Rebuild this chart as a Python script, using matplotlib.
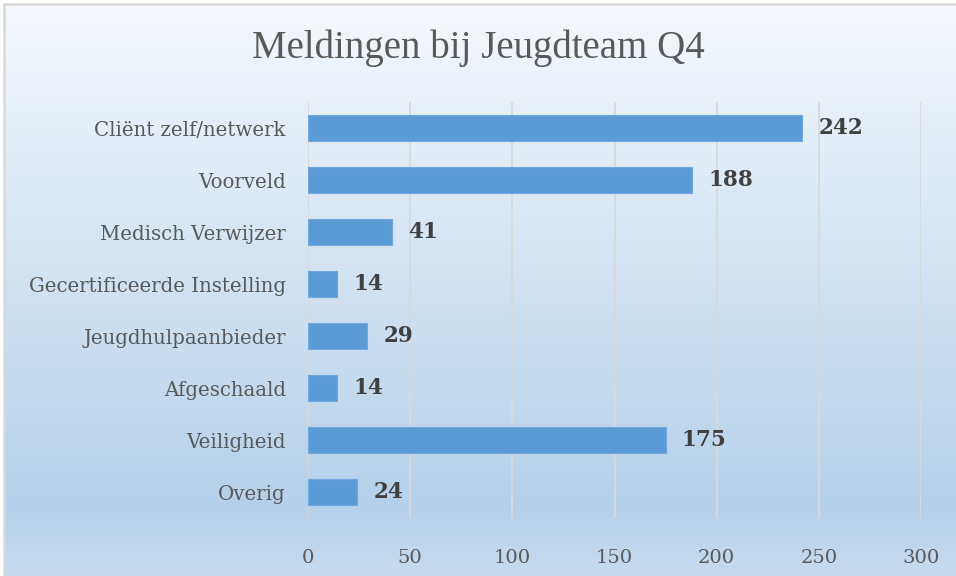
import matplotlib.pyplot as plt
import matplotlib.colors as mcolors
from matplotlib.lines import Line2D
import numpy as np

categories = ["Cliënt zelf/netwerk", "Voorveld", "Medisch Verwijzer",
              "Gecertificeerde Instelling", "Jeugdhulpaanbieder", "Afgeschaald",
              "Veiligheid", "Overig"]
values = [242, 188, 41, 14, 29, 14, 175, 24]
xticks = [0, 50, 100, 150, 200, 250, 300]
title = "Meldingen bij Jeugdteam Q4"

W, H = 956, 576
fig = plt.figure(figsize=(W / 100, H / 100), dpi=100)
fig.patch.set_facecolor("white")

##background gradient running off the right and bottom edge
bg = fig.add_axes([4 / W, -0.02, 1.05, 1.02 - 4 / H])
cmap = mcolors.LinearSegmentedColormap.from_list(
    "bg", [(0, "#f5f8fc"), (0.86, "#b4d1eb"), (1, "#c9ddf1")])
grad = np.linspace(0, 1, 256).reshape(-1, 1)
bg.imshow(grad, aspect="auto", cmap=cmap, extent=[0, 1, 0, 1], origin="upper")
bg.set_axis_off()
bg.set_zorder(0)

##grey frame on the left and top only
fig.add_artist(Line2D([4 / W, 4 / W], [0, 1 - 4 / H], color="#d9d9d9", linewidth=1.8))
fig.add_artist(Line2D([4 / W, 1], [1 - 4 / H, 1 - 4 / H], color="#d9d9d9", linewidth=1.8))

ax = fig.add_axes([308 / W, 1 - 518 / H, (921 - 308) / W, (518 - 102) / H])
ax.set_zorder(1)
ax.patch.set_alpha(0)

font = "DejaVu Serif"
y = np.arange(len(categories))
ax.barh(y, values, height=0.5, color="#5b9bd5", edgecolor="#6fa8dc", linewidth=0.8, zorder=2)
for yi, v in zip(y, values):
    ax.text(v + 8, yi, str(v), va="center", ha="left", fontsize=15.5, fontweight="bold",
            color="#404040", family=font)

ax.set_ylim(len(categories) - 0.5, -0.5)
ax.set_xlim(0, 300)
ax.set_xticks(xticks)
ax.set_xticklabels([str(t) for t in xticks], family=font, fontsize=14, color="#595959")
ax.set_yticks(y)
ax.set_yticklabels(categories, family=font, fontsize=14.2, color="#595959")
ax.tick_params(axis="both", length=0)
ax.tick_params(axis="x", pad=22)
ax.tick_params(axis="y", pad=16)
ax.grid(axis="x", color="#d9d9d9", linewidth=1.3, zorder=0)
for s in ax.spines.values():
    s.set_visible(False)

fig.text(0.5, 1 - 48 / H, title, ha="center", va="center", fontsize=28,
         color="#595959", family="Liberation Serif")

fig.savefig("out.png", dpi=100)
